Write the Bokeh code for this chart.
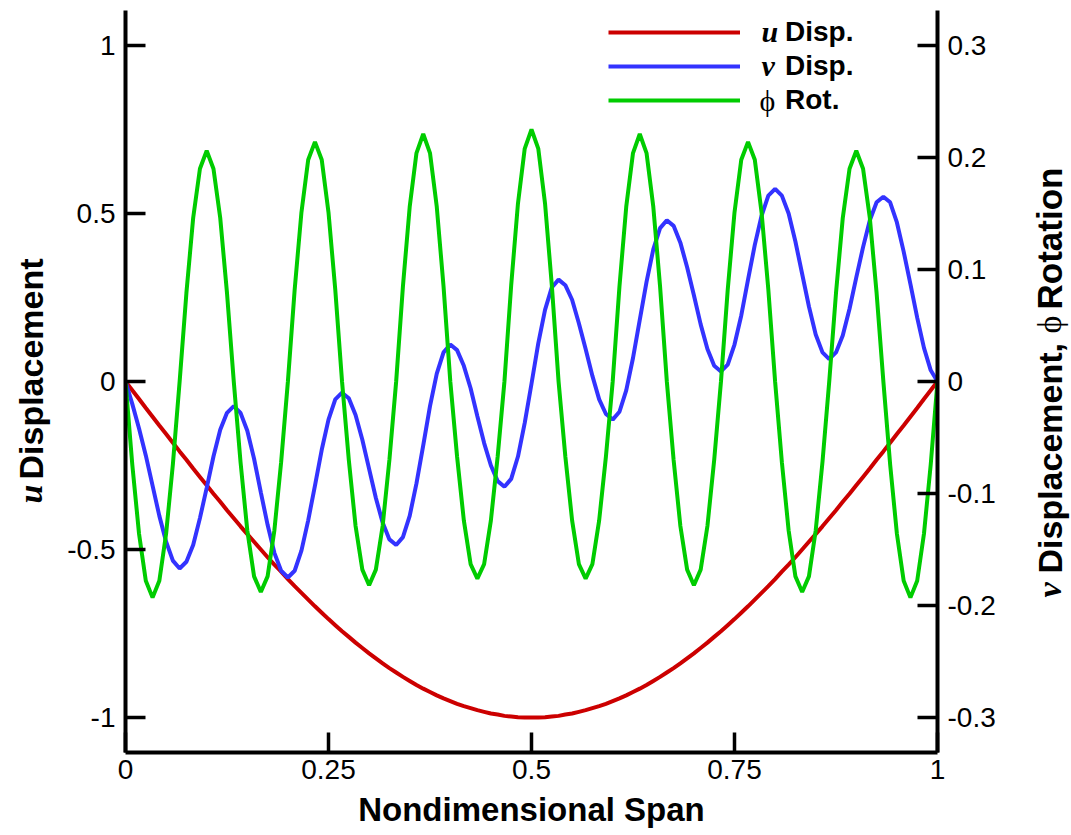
import numpy as np
from math import pi
from bokeh.plotting import figure
from bokeh.layouts import row
from bokeh.models import (Range1d, LinearAxis, FixedTicker, Label, Legend,
                          LegendItem, ColumnDataSource)
from bokeh.embed import file_html
from bokeh.resources import INLINE

# ---------------- data ----------------
span = np.linspace(0.0, 1.0, 121)

u_disp = [
    0.000, -0.026, -0.052, -0.079, -0.105, -0.131, -0.156, -0.182, -0.208, -0.233,
    -0.259, -0.284, -0.309, -0.334, -0.358, -0.383, -0.407, -0.431, -0.454, -0.477,
    -0.500, -0.523, -0.545, -0.566, -0.588, -0.609, -0.629, -0.649, -0.669, -0.688,
    -0.707, -0.725, -0.743, -0.760, -0.777, -0.793, -0.809, -0.824, -0.839, -0.853,
    -0.866, -0.879, -0.891, -0.903, -0.914, -0.924, -0.934, -0.943, -0.951, -0.959,
    -0.966, -0.972, -0.978, -0.983, -0.988, -0.991, -0.995, -0.997, -0.999, -1.000,
    -1.000,
    -1.000, -0.999, -0.997, -0.995, -0.991, -0.988, -0.983, -0.978, -0.972, -0.966,
    -0.959, -0.951, -0.943, -0.934, -0.924, -0.914, -0.903, -0.891, -0.879, -0.866,
    -0.853, -0.839, -0.824, -0.809, -0.793, -0.777, -0.760, -0.743, -0.725, -0.707,
    -0.688, -0.669, -0.649, -0.629, -0.609, -0.588, -0.566, -0.545, -0.523, -0.500,
    -0.477, -0.454, -0.431, -0.407, -0.383, -0.358, -0.334, -0.309, -0.284, -0.259,
    -0.233, -0.208, -0.182, -0.156, -0.131, -0.105, -0.079, -0.052, -0.026, 0.000,
]

v_disp = [
    0.000, -0.020, -0.042, -0.066, -0.093, -0.120, -0.143, -0.160, -0.167,
    -0.161, -0.146, -0.122, -0.095, -0.067, -0.043, -0.028, -0.022,
    -0.028, -0.044, -0.069, -0.099, -0.128, -0.153, -0.169, -0.175,
    -0.169, -0.151, -0.124, -0.093, -0.061, -0.034, -0.016, -0.010,
    -0.015, -0.030, -0.052, -0.078, -0.104, -0.126, -0.141, -0.146,
    -0.139, -0.120, -0.091, -0.057, -0.022, 0.007, 0.026, 0.033,
    0.028, 0.014, -0.006, -0.031, -0.055, -0.075, -0.089, -0.094,
    -0.087, -0.067, -0.037, -0.002, 0.034, 0.064, 0.084, 0.091,
    0.086, 0.073, 0.052, 0.029, 0.005, -0.016, -0.029, -0.034,
    -0.027, -0.008, 0.021, 0.055, 0.089, 0.118, 0.137, 0.144,
    0.139, 0.124, 0.102, 0.077, 0.051, 0.029, 0.014, 0.009,
    0.015, 0.033, 0.059, 0.091, 0.122, 0.148, 0.166, 0.172,
    0.166, 0.150, 0.125, 0.096, 0.067, 0.042, 0.026, 0.020,
    0.026, 0.041, 0.065, 0.093, 0.120, 0.144, 0.160, 0.165,
    0.160, 0.142, 0.116, 0.087, 0.057, 0.030, 0.010, 0.000,
]

phi_rot = [
    0.000, -0.074, -0.136, -0.178, -0.193, -0.178, -0.136, -0.074, 0.000,
    0.079, 0.146, 0.190, 0.206, 0.190, 0.146, 0.079, 0.000,
    -0.072, -0.133, -0.174, -0.188, -0.174, -0.133, -0.072, 0.000,
    0.082, 0.151, 0.198, 0.214, 0.198, 0.151, 0.082, 0.000,
    -0.070, -0.129, -0.168, -0.182, -0.168, -0.129, -0.070, 0.000,
    0.085, 0.156, 0.204, 0.221, 0.204, 0.156, 0.085, 0.000,
    -0.067, -0.124, -0.163, -0.176, -0.163, -0.124, -0.067, 0.000,
    0.086, 0.159, 0.208, 0.225, 0.208, 0.159, 0.086, 0.000,
    -0.067, -0.124, -0.163, -0.176, -0.163, -0.124, -0.067, 0.000,
    0.085, 0.156, 0.204, 0.221, 0.204, 0.156, 0.085, 0.000,
    -0.070, -0.129, -0.168, -0.182, -0.168, -0.129, -0.070, 0.000,
    0.082, 0.151, 0.198, 0.214, 0.198, 0.151, 0.082, 0.000,
    -0.072, -0.133, -0.174, -0.188, -0.174, -0.133, -0.072, 0.000,
    0.079, 0.146, 0.190, 0.206, 0.190, 0.146, 0.079, 0.000,
    -0.074, -0.136, -0.178, -0.193, -0.178, -0.136, -0.074, 0.000,
]

x_ticks = [0, 0.25, 0.5, 0.75, 1]
x_tick_labels = ["0", "0.25", "0.5", "0.75", "1"]
left_ticks = [-1, -0.5, 0, 0.5, 1]
left_tick_labels = ["-1", "-0.5", "0", "0.5", "1"]
right_ticks = [-0.3, -0.2, -0.1, 0, 0.1, 0.2, 0.3]
right_tick_labels = ["-0.3", "-0.2", "-0.1", "0", "0.1", "0.2", "0.3"]

RED, BLUE, GREEN = "#cc0000", "#3333ff", "#00cc00"
SANS = "Liberation Sans"
SERIF = "Liberation Serif, DejaVu Serif"

W, H = 1071, 835
TOP, BOTTOM = 10, 83              # frame borders (px) shared by all three figures
SIDE_L, SIDE_R = 60, 60           # narrow figures holding the rotated titles
MAIN_W = W - SIDE_L - SIDE_R
Y_LO, Y_HI = -1.104, 1.104


def strip(fig):
    fig.outline_line_color = None
    fig.xgrid.visible = False
    fig.ygrid.visible = False
    fig.background_fill_color = "white"
    fig.border_fill_color = "white"


# ---------------- main figure ----------------
p = figure(width=MAIN_W, height=H, x_range=Range1d(0, 1),
           y_range=Range1d(Y_LO, Y_HI), output_backend="svg",
           toolbar_location=None, min_border_left=125 - SIDE_L,
           min_border_right=(W - SIDE_R) - 937, min_border_top=TOP,
           min_border_bottom=BOTTOM)
p.extra_y_ranges = {"rot": Range1d(-0.3313, 0.3313)}
p.add_layout(LinearAxis(y_range_name="rot"), "right")
strip(p)

for ax in p.axis:
    ax.axis_line_width = 4
    ax.axis_line_color = "black"
    ax.major_tick_in = 20
    ax.major_tick_out = 0
    ax.major_tick_line_width = 3.5
    ax.major_tick_line_color = "black"
    ax.minor_tick_line_color = None
    ax.major_label_text_font = SANS
    ax.major_label_text_font_size = "28px"
    ax.major_label_text_color = "black"
    ax.major_label_standoff = 10

p.xaxis.ticker = FixedTicker(ticks=x_ticks)
p.xaxis.major_label_overrides = {t: s for t, s in zip(x_ticks, x_tick_labels)}
p.xaxis.major_label_standoff = 7
p.xaxis.axis_label = "Nondimensional Span"
p.xaxis.axis_label_text_font = SANS
p.xaxis.axis_label_text_font_style = "bold"
p.xaxis.axis_label_text_font_size = "33px"
p.xaxis.axis_label_text_color = "black"
p.xaxis.axis_label_standoff = 9
p.yaxis[0].ticker = FixedTicker(ticks=left_ticks)
p.yaxis[0].major_label_overrides = {t: s for t, s in zip(left_ticks, left_tick_labels)}
p.yaxis[1].ticker = FixedTicker(ticks=right_ticks)
p.yaxis[1].major_label_overrides = {t: s for t, s in zip(right_ticks, right_tick_labels)}

src = ColumnDataSource(dict(x=span, u=u_disp, v=v_disp, phi=phi_rot))
r_u = p.line("x", "u", source=src, line_color=RED, line_width=4)
r_v = p.line("x", "v", source=src, line_color=BLUE, line_width=4, y_range_name="rot")
r_phi = p.line("x", "phi", source=src, line_color=GREEN, line_width=4, y_range_name="rot")

FL, FB = 125, H - BOTTOM  # frame left / bottom on the page

legend = Legend(items=[LegendItem(label="Disp.", renderers=[r_u]),
                       LegendItem(label="Disp.", renderers=[r_v]),
                       LegendItem(label="Rot.", renderers=[r_phi])],
                location=(608 - FL, FB - 117), glyph_width=132, glyph_height=34,
                label_height=34, label_standoff=45, spacing=0, padding=0,
                margin=0, border_line_color=None, background_fill_alpha=0,
                label_text_font=SANS, label_text_font_style="bold",
                label_text_font_size="28px", label_text_color="black")
p.add_layout(legend)


def lab(fig, text, x, y, font, style, size, angle=0.0):
    fig.add_layout(Label(x=x, y=y, x_units="screen", y_units="screen",
                         text=text, text_font=font, text_font_style=style,
                         text_font_size=size, angle=angle, text_align="left",
                         text_baseline="middle", text_color="black"))


# legend symbols (page coords converted to frame coords)
lab(p, "u", 761 - FL, FB - 31, SERIF, "bold italic", "30px")
lab(p, "ν", 761 - FL, FB - 65, SERIF, "bold italic", "30px")
lab(p, "ϕ", 759 - FL, FB - 100, SERIF, "normal", "30px")


def side(width):
    f = figure(width=width, height=H, x_range=Range1d(0, width),
               y_range=Range1d(Y_LO, Y_HI), output_backend="svg",
               toolbar_location=None, min_border_left=0, min_border_right=0,
               min_border_top=TOP, min_border_bottom=BOTTOM,
               x_axis_location=None, y_axis_location=None)
    strip(f)
    return f


# left title: "u Displacement"  (screen coords: frame left / frame bottom)
lf = side(SIDE_L)
lab(lf, "u", 30, FB - 503, SERIF, "bold italic", "34px", angle=pi / 2)
lab(lf, "Displacement", 30, FB - 479, SANS, "bold", "34px", angle=pi / 2)

# right title: "ν Displacement, ϕ Rotation"
rf = side(SIDE_R)
x0 = 1049 - (W - SIDE_R)
lab(rf, "ν", x0, FB - 597, SERIF, "bold italic", "34px", angle=pi / 2)
lab(rf, "Displacement,", x0, FB - 573, SANS, "bold", "34px", angle=pi / 2)
lab(rf, "ϕ", x0, FB - 333, SERIF, "normal", "34px", angle=pi / 2)
lab(rf, "Rotation", x0, FB - 309, SANS, "bold", "35px", angle=pi / 2)

layout = row(lf, p, rf, spacing=0)
open("out.html", "w").write(file_html(layout, INLINE))
